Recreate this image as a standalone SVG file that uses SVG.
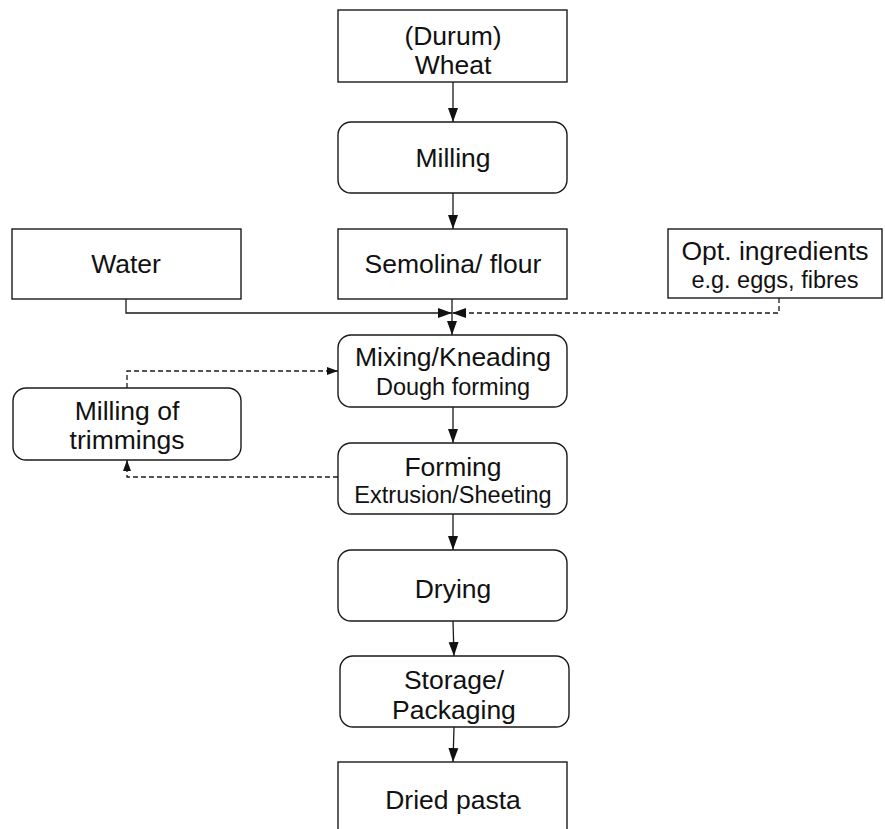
<svg xmlns="http://www.w3.org/2000/svg" width="885" height="829" viewBox="0 0 885 829">
<style>
.box{fill:#fff;stroke:#1a1a1a;stroke-width:1.4}
.t{font-family:"Liberation Sans",Arial,sans-serif;font-size:26.5px;fill:#111;text-anchor:middle}
.s{font-size:23.5px}
.c{fill:none;stroke:#1a1a1a;stroke-width:1.3}
.d{stroke-dasharray:5,3}
</style>
<defs>
<marker id="ahl" markerWidth="14" markerHeight="11" viewBox="0 0 14 11" refX="14" refY="5.5" orient="auto" markerUnits="userSpaceOnUse"><path d="M0,0.5 L14,5.5 L0,10.5 Z" fill="#111"/></marker>
<marker id="ahs" markerWidth="11" markerHeight="9" viewBox="0 0 11 9" refX="11" refY="4.5" orient="auto" markerUnits="userSpaceOnUse"><path d="M0,0.5 L11,4.5 L0,8.5 Z" fill="#111"/></marker>
</defs>
<rect width="885" height="829" fill="#fff"/>
<g id="connectors">
<path class="c" d="M453,82 V122" marker-end="url(#ahl)"/>
<path class="c" d="M453,193 V229" marker-end="url(#ahl)"/>
<path class="c" d="M452,299 V335" marker-end="url(#ahl)"/>
<path class="c" d="M126,299 V313 H452" marker-end="url(#ahl)"/>
<path class="c d" d="M779,298 V313 H452" marker-end="url(#ahl)"/>
<path class="c" d="M453,407 V443" marker-end="url(#ahl)"/>
<path class="c d" d="M127,388 V371 H338" marker-end="url(#ahs)"/>
<path class="c d" d="M338,477 H127 V460" marker-end="url(#ahs)"/>
<path class="c" d="M453,514 V550" marker-end="url(#ahl)"/>
<path class="c" d="M453,621 L454,656" marker-end="url(#ahl)"/>
<path class="c" d="M454,727 L453,762" marker-end="url(#ahl)"/>
</g>
<g id="wheat"><rect class="box" x="338" y="10" width="229" height="72"/><text class="t" x="453" y="45">(Durum)</text><text class="t" x="453" y="74">Wheat</text></g>
<g id="milling"><rect class="box" x="338" y="122" width="229" height="71" rx="13"/><text class="t" x="453" y="167">Milling</text></g>
<g id="water"><rect class="box" x="12" y="229" width="229" height="70"/><text class="t" x="126" y="273">Water</text></g>
<g id="semolina"><rect class="box" x="338" y="229" width="229" height="70"/><text class="t" x="453" y="273">Semolina/ flour</text></g>
<g id="opt"><rect class="box" x="668" y="229" width="214" height="69"/><text class="t" x="775" y="260">Opt. ingredients</text><text class="t s" x="775" y="288">e.g. eggs, fibres</text></g>
<g id="mixing"><rect class="box" x="338" y="335" width="229" height="72" rx="13"/><text class="t" x="453" y="366">Mixing/Kneading</text><text class="t s" x="453" y="395">Dough forming</text></g>
<g id="trimmings"><rect class="box" x="13" y="388" width="228" height="72" rx="13"/><text class="t" x="127" y="420">Milling of</text><text class="t" x="127" y="449">trimmings</text></g>
<g id="forming"><rect class="box" x="338" y="443" width="229" height="71" rx="13"/><text class="t" x="453" y="476">Forming</text><text class="t s" x="453" y="503">Extrusion/Sheeting</text></g>
<g id="drying"><rect class="box" x="338" y="550" width="229" height="71" rx="13"/><text class="t" x="453" y="598">Drying</text></g>
<g id="storage"><rect class="box" x="340" y="656" width="229" height="71" rx="13"/><text class="t" x="454" y="689">Storage/</text><text class="t" x="454" y="719">Packaging</text></g>
<g id="dried"><rect class="box" x="338" y="762" width="229" height="80"/><text class="t" x="453" y="809">Dried pasta</text></g>
</svg>
